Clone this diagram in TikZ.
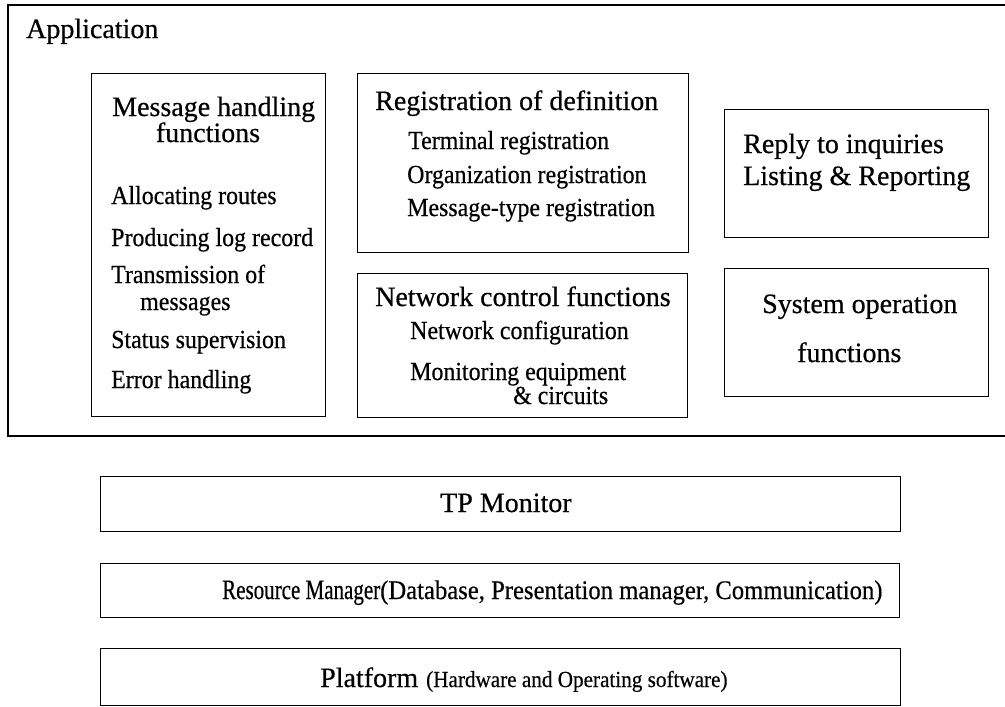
\documentclass[tikz,border=0pt]{standalone}
\usepackage{fontspec}
\setmainfont{Liberation Serif}[FakeBold=0.5]
\newfontfamily\itemserif[FakeStretch=0.92, FakeBold=0.5]{Liberation Serif}
\newfontfamily\narrowserif[FakeStretch=0.75, FakeBold=0.5]{Liberation Serif}

\tikzset{
  frame/.style={draw=black, line width=1.3pt},
  panel/.style={frame, anchor=north west, inner sep=0pt},
  title/.style={inner sep=0pt, anchor=base west, font=\fontsize{28}{30}\selectfont},
  item/.style={inner sep=0pt, anchor=base west, font=\itemserif\fontsize{26}{28}\selectfont},
}

\begin{document}
\begin{tikzpicture}[x=1pt, y=-1pt]
\useasboundingbox (0,0) rectangle (1005,707);

% Application layer: frame left open on the right
\coordinate (apptr) at (1005,5);
\coordinate (apptl) at (8,5);
\coordinate (appbl) at (8,436);
\coordinate (appbr) at (1005,436);
\draw[frame] (apptr) -- (apptl) -- (appbl) -- (appbr);
\node[title] (app) at (26,38) {Application};

% Message handling functions
\node[panel, minimum width=234pt, minimum height=343pt] (msgbox) at (91,73) {};
\node[title] (msgt1) at (112,116) {Message handling};
\node[title, anchor=base] (msgt2) at (208,142) {functions};
\node[item] (msg1) at (111,204) {Allocating routes};
\node[item] (msg2) at (111,246) {Producing log record};
\node[item] (msg3) at (111,283) {Transmission of};
\node[item] (msg3b) at (140,310) {messages};
\node[item] (msg4) at (111,348) {Status supervision};
\node[item] (msg5) at (111,388) {Error handling};

% Registration of definition
\node[panel, minimum width=331pt, minimum height=179pt] (regbox) at (357,73) {};
\node[title] (regt) at (375,110) {Registration of definition};
\node[item] (reg1) at (408,149) {Terminal registration};
\node[item] (reg2) at (407,183) {Organization registration};
\node[item] (reg3) at (407,216) {Message-type registration};

% Network control functions
\node[panel, minimum width=330pt, minimum height=144pt] (netbox) at (357,273) {};
\node[title] (nett) at (375,306) {Network control functions};
\node[item] (net1) at (410,339) {Network configuration};
\node[item] (net2) at (410,380) {Monitoring equipment};
\node[item] (net2b) at (513,404) {\& circuits};

% Reply to inquiries
\node[panel, minimum width=264pt, minimum height=128pt] (replybox) at (724,109) {};
\node[title] (reply1) at (743,153) {Reply to inquiries};
\node[title] (reply2) at (743,185) {Listing \& Reporting};

% System operation functions
\node[panel, minimum width=264pt, minimum height=128pt] (sysbox) at (724,268) {};
\node[title] (sys1) at (762,313) {System operation};
\node[title] (sys2) at (797,362) {functions};

% Lower layers
\node[panel, minimum width=800pt, minimum height=55pt] (tpbox) at (100,476) {};
\node[title] (tp) at (440,512) {TP Monitor};

\node[panel, minimum width=799pt, minimum height=54pt] (resbox) at (100,563) {};
\node[inner sep=0pt, anchor=base west] (res) at (222,599)
  {{\narrowserif\fontsize{28}{30}\selectfont Resource Manager}{\itemserif\fontsize{26.8}{28}\selectfont (Database, Presentation manager, Communication)}};

\node[panel, minimum width=800pt, minimum height=57pt] (platbox) at (100,648) {};
\node[inner sep=0pt, anchor=base west] (plat) at (320,687)
  {{\fontsize{28}{30}\selectfont Platform}\hspace{8pt}{\itemserif\fontsize{23}{25}\selectfont (Hardware and Operating software)}};
\end{tikzpicture}
\end{document}
